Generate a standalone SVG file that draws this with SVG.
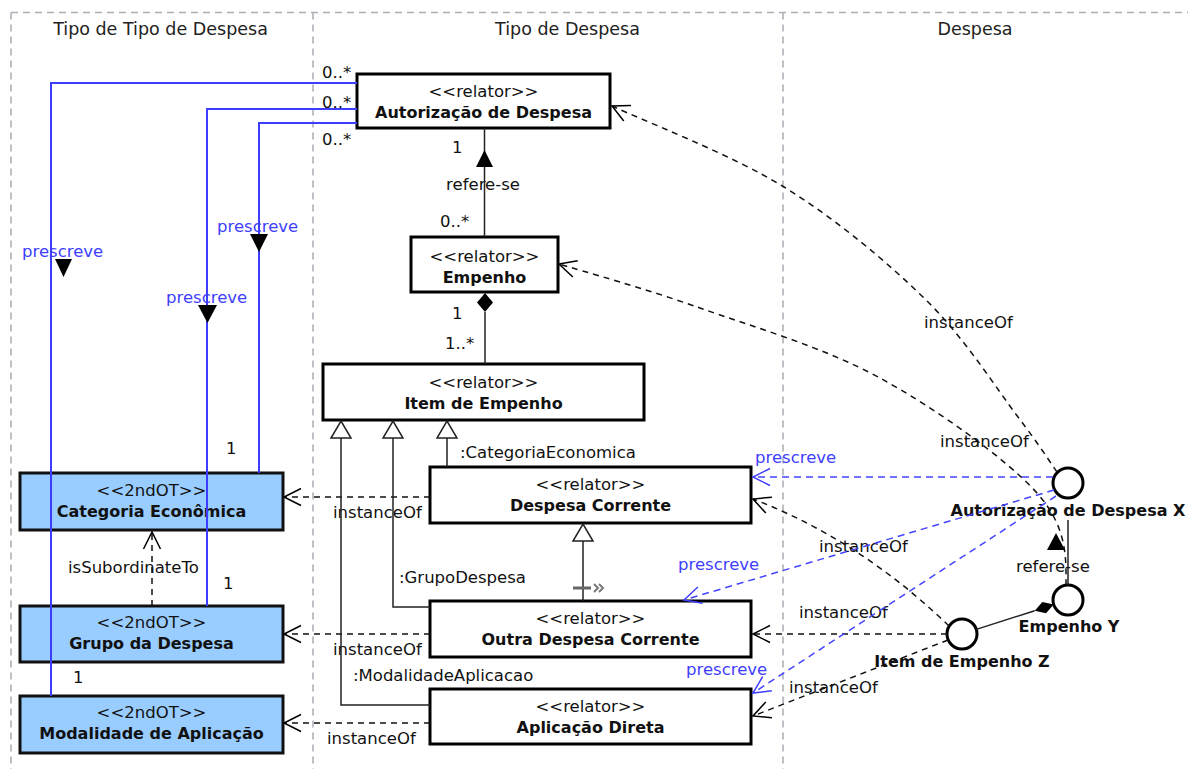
<svg xmlns="http://www.w3.org/2000/svg" width="1188" height="769" viewBox="0 0 1188 769">
  <style>
    text { font-family: "DejaVu Sans", "Liberation Sans", sans-serif; font-size: 16.5px; fill: #111; }
    .title { font-size: 17.5px; fill: #222; }
    .name { font-weight: bold; font-size: 16px; }
    .mid { text-anchor: middle; }
    .blue { fill: #3f3fff; }
    .frame { stroke: #a9afb5; stroke-width: 1.5; stroke-dasharray: 7 5; fill: none; }
    .box { fill: #fff; stroke: #000; stroke-width: 3; }
    .kind { fill: #99ccff; stroke: #111; stroke-width: 3; }
    .inst { fill: #fff; stroke: #000; stroke-width: 3; }
    .solid { stroke: #222; stroke-width: 1.5; fill: none; }
    .dash { stroke: #111; stroke-width: 1.5; fill: none; stroke-dasharray: 6 5; marker-end: url(#open); }
    .bsolid { stroke: #3d3dff; stroke-width: 2; fill: none; }
    .bdash { stroke: #4444ff; stroke-width: 1.5; fill: none; stroke-dasharray: 7 5; marker-end: url(#openBlue); }
    .gen { fill: #fff; stroke: #222; stroke-width: 1.5; }
    .fill { fill: #000; }
  </style>
  <defs>
    <marker id="open" viewBox="-19 -10 21 20" refX="0" refY="0" markerWidth="21" markerHeight="20" orient="auto" markerUnits="userSpaceOnUse">
      <path d="M-17,-8.5 L0,0 L-17,8.5" fill="none" stroke="#000" stroke-width="1.5" stroke-dasharray="none"/>
    </marker>
    <marker id="openBlue" viewBox="-19 -10 21 20" refX="0" refY="0" markerWidth="21" markerHeight="20" orient="auto" markerUnits="userSpaceOnUse">
      <path d="M-17,-8.5 L0,0 L-17,8.5" fill="none" stroke="#3f3fff" stroke-width="1.5" stroke-dasharray="none"/>
    </marker>
  </defs>

  <!-- swimlane frame -->
  <g id="lanes">
    <path class="frame" d="M11,12.5 H1188 M11,12.5 V769 M313,12.5 V769 M783,12.5 V769"/>
    <text class="title mid" x="160.5" y="35">Tipo de Tipo de Despesa</text>
    <text class="title mid" x="567.5" y="35">Tipo de Despesa</text>
    <text class="title mid" x="975" y="35">Despesa</text>
  </g>

  <!-- classes -->
  <g id="autorizacao">
    <rect class="box" x="357" y="74" width="253" height="54"/>
    <text class="mid" x="483.5" y="97">&lt;&lt;relator&gt;&gt;</text>
    <text class="name mid" x="483.5" y="118">Autorização de Despesa</text>
  </g>
  <g id="empenho">
    <rect class="box" x="411" y="237" width="147" height="55"/>
    <text class="mid" x="484.5" y="262">&lt;&lt;relator&gt;&gt;</text>
    <text class="name mid" x="484.5" y="283">Empenho</text>
  </g>
  <g id="item-empenho">
    <rect class="box" x="323" y="364" width="321" height="56"/>
    <text class="mid" x="483.5" y="388">&lt;&lt;relator&gt;&gt;</text>
    <text class="name mid" x="483.5" y="409">Item de Empenho</text>
  </g>
  <g id="despesa-corrente">
    <rect class="box" x="430" y="467" width="321" height="56"/>
    <text class="mid" x="590.5" y="490">&lt;&lt;relator&gt;&gt;</text>
    <text class="name mid" x="590.5" y="511">Despesa Corrente</text>
  </g>
  <g id="outra-despesa">
    <rect class="box" x="430" y="601" width="321" height="56"/>
    <text class="mid" x="590.5" y="624">&lt;&lt;relator&gt;&gt;</text>
    <text class="name mid" x="590.5" y="645">Outra Despesa Corrente</text>
  </g>
  <g id="aplicacao-direta">
    <rect class="box" x="430" y="689" width="321" height="55"/>
    <text class="mid" x="590.5" y="712">&lt;&lt;relator&gt;&gt;</text>
    <text class="name mid" x="590.5" y="733">Aplicação Direta</text>
  </g>
  <g id="categoria">
    <rect class="kind" x="20" y="473" width="263" height="57"/>
    <text class="mid" x="151.5" y="496">&lt;&lt;2ndOT&gt;&gt;</text>
    <text class="name mid" x="151.5" y="517">Categoria Econômica</text>
  </g>
  <g id="grupo">
    <rect class="kind" x="20" y="606" width="263" height="56"/>
    <text class="mid" x="151.5" y="628">&lt;&lt;2ndOT&gt;&gt;</text>
    <text class="name mid" x="151.5" y="649">Grupo da Despesa</text>
  </g>
  <g id="modalidade">
    <rect class="kind" x="20" y="696" width="263" height="57"/>
    <text class="mid" x="151.5" y="718">&lt;&lt;2ndOT&gt;&gt;</text>
    <text class="name mid" x="151.5" y="739">Modalidade de Aplicação</text>
  </g>

  <!-- individuals -->
  <g id="autorizacao-x">
    <circle class="inst" cx="1068" cy="483" r="15"/>
    <text class="name mid" x="1068" y="516">Autorização de Despesa X</text>
  </g>
  <g id="empenho-y">
    <circle class="inst" cx="1068" cy="600" r="15"/>
    <text class="name mid" x="1069" y="632">Empenho Y</text>
  </g>
  <g id="item-z">
    <circle class="inst" cx="962" cy="634" r="15"/>
    <text class="name mid" x="962" y="667">Item de Empenho Z</text>
  </g>

  <!-- connectors -->
  <g id="connectors">
    <!-- prescreve: Autorização de Despesa to the 2ndOT types -->
    <path class="bsolid" d="M357,83 H51 V696"/>
    <path class="bsolid" d="M357,109 H207 V606"/>
    <path class="bsolid" d="M357,123 H259 V473"/>
    <polygon class="fill" points="55,259 72,259 63.5,277"/>
    <polygon class="fill" points="198,305 217,305 207.5,323"/>
    <polygon class="fill" points="250,234 268,234 259,252"/>
    <text class="blue" x="22" y="257">prescreve</text>
    <text class="blue" x="166" y="303">prescreve</text>
    <text class="blue" x="217" y="232">prescreve</text>
    <text x="322" y="78">0..*</text>
    <text x="322" y="108">0..*</text>
    <text x="322" y="145">0..*</text>
    <text x="226" y="454">1</text>
    <text x="223" y="589">1</text>
    <text x="73" y="683">1</text>

    <!-- isSubordinateTo -->
    <path class="dash" d="M152,606 V532"/>
    <text x="68" y="573">isSubordinateTo</text>

    <!-- instanceOf: relators to 2ndOT -->
    <path class="dash" d="M430,497 H284"/>
    <text x="333" y="518">instanceOf</text>
    <path class="dash" d="M430,634 H284"/>
    <text x="333" y="655">instanceOf</text>
    <path class="dash" d="M430,723 H284"/>
    <text x="327" y="744">instanceOf</text>

    <!-- refere-se: Empenho to Autorização -->
    <path class="solid" d="M484.5,128 V237"/>
    <polygon class="fill" points="476,167 493,167 484.5,150"/>
    <text x="452" y="153">1</text>
    <text class="mid" x="483" y="190">refere-se</text>
    <text x="440" y="227">0..*</text>

    <!-- composition: Empenho to Item de Empenho -->
    <path class="solid" d="M485,312 V364"/>
    <polygon class="fill" points="485,293 493,302.5 485,312 477,302.5"/>
    <text x="452" y="319">1</text>
    <text x="445" y="349">1..*</text>

    <!-- generalizations to Item de Empenho -->
    <path class="solid" d="M447,438 V467"/>
    <path class="solid" d="M393,438 V607 H430"/>
    <path class="solid" d="M341,438 V705 H430"/>
    <polygon class="gen" points="437,438 457,438 447,421"/>
    <polygon class="gen" points="383,438 403,438 393,421"/>
    <polygon class="gen" points="331,438 351,438 341,421"/>
    <text x="460" y="458">:CategoriaEconomica</text>
    <text x="399" y="583">:GrupoDespesa</text>
    <text x="353" y="681">:ModalidadeAplicacao</text>

    <!-- generalization: Outra Despesa Corrente to Despesa Corrente -->
    <path class="solid" d="M583,541 V601"/>
    <polygon class="gen" points="573,541 593,541 583,524"/>
    <path d="M573,588 H591" stroke="#666" stroke-width="3" fill="none"/>
    <path d="M594,584 L598,588 L594,592 M599,584 L603,588 L599,592" stroke="#777" stroke-width="2" fill="none"/>

    <!-- individuals: instanceOf -->
    <path class="dash" d="M1057,472 C1050.5,462.8 1039.8,445.7 1018,417 C996.2,388.3 965,338.3 926,300 C887,261.7 836.3,219.3 784,187 C731.7,154.7 640.7,119.5 612,106"/>
    <text x="924" y="328">instanceOf</text>
    <path class="dash" d="M1066,585 C1066,560 1068,527.5 1037,493 C1006,458.5 936.2,408.8 880,378 C823.8,347.2 753.3,327 700,308 C646.7,289 583.3,271.3 559,264"/>
    <text x="940" y="447">instanceOf</text>
    <path class="dash" d="M949,626 Q860,540 753,499"/>
    <text x="819" y="552">instanceOf</text>
    <path class="dash" d="M947,634 H753"/>
    <text x="799" y="618">instanceOf</text>
    <path class="dash" d="M948,640 L753,716"/>
    <text x="789" y="693">instanceOf</text>

    <!-- individuals: prescreve -->
    <path class="bdash" d="M1053,477 H753"/>
    <text class="blue" x="755" y="463">prescreve</text>
    <path class="bdash" d="M1054,490 L684,600"/>
    <text class="blue" x="678" y="570">prescreve</text>
    <path class="bdash" d="M1056,496 L753,693"/>
    <text class="blue" x="686" y="675">prescreve</text>

    <!-- refere-se between individuals -->
    <path class="solid" d="M1068,520 V585"/>
    <polygon class="fill" points="1047,550 1065,550 1056,533"/>
    <text x="1016" y="572">refere-se</text>

    <!-- composition between individuals -->
    <path class="solid" d="M976.3,629.4 L1034.7,610.7"/>
    <polygon class="fill" points="1053.7,604.6 1046,613.3 1034.7,610.7 1042.4,601.9"/>
  </g>
</svg>
